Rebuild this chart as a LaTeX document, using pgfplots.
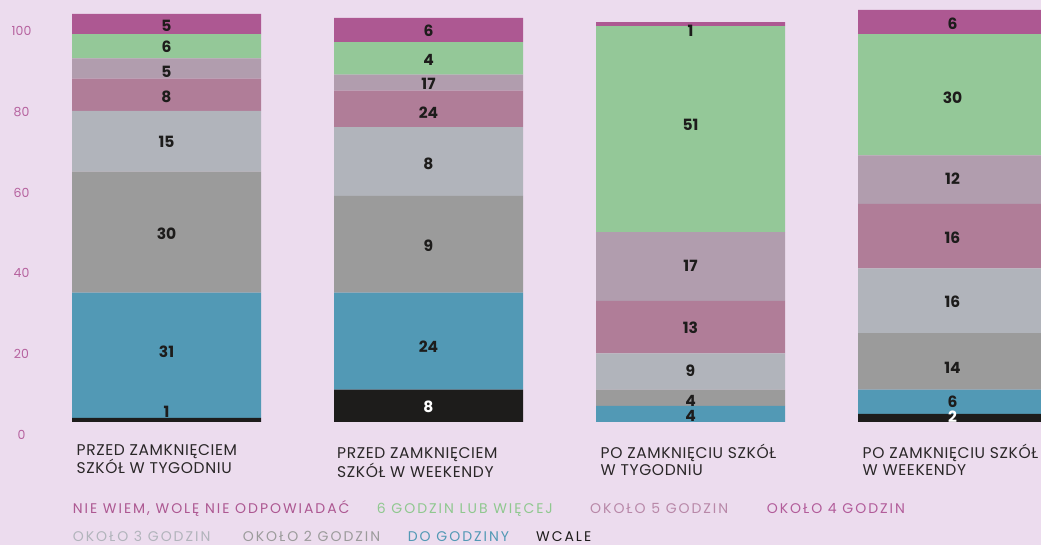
\documentclass[border=0pt]{standalone}
\usepackage{fontspec}
\setmainfont{Poppins}
\newfontfamily\catfont{Poppins}[LetterSpace=4]
\newfontfamily\legfont{Poppins}[LetterSpace=14]
\usepackage{pgfplots}
\pgfplotsset{compat=1.18}
\definecolor{bgc}{HTML}{ECDCEE}
\definecolor{pinkc}{HTML}{AD5892}
\definecolor{greenc}{HTML}{94C898}
\definecolor{lmauve}{HTML}{B19DAE}
\definecolor{mauve}{HTML}{B07D98}
\definecolor{lgray}{HTML}{B1B4BB}
\definecolor{dgray}{HTML}{9B9B9B}
\definecolor{bluec}{HTML}{5299B5}
\definecolor{blackc}{HTML}{1D1C1B}
\definecolor{tickc}{HTML}{B6629F}
\definecolor{txtc}{HTML}{2A2728}
\definecolor{lg5}{HTML}{B888A8}
\definecolor{lg4}{HTML}{B25C9A}
\definecolor{lggreen}{HTML}{8FC88F}
\begin{document}
\begin{tikzpicture}
\fill[bgc] (0,0) rectangle (1041pt,545pt);
\path[use as bounding box] (0,0) rectangle (1041pt,545pt);
\pgfplotsset{commonax/.style={
  at={(166.5pt,123pt)}, anchor=origin,
  x=262pt, y=4.04pt,
  xmin=-0.5534, xmax=3.34, ymin=-5, ymax=106,
}}
\begin{axis}[commonax,
  ybar stacked, bar width=189pt,
  axis line style={draw=none},
  major tick length=0pt,
  xtick={0,2,3},
  xticklabels={{PRZED ZAMKNIĘCIEM\\SZKÓŁ W TYGODNIU},{PO ZAMKNIĘCIU SZKÓŁ\\W TYGODNIU},{PO ZAMKNIĘCIU SZKÓŁ\\W WEEKENDY}},
  extra x ticks={1},
  extra x tick labels={{PRZED ZAMKNIĘCIEM\\SZKÓŁ W WEEKENDY}},
  extra x tick style={xticklabel style={yshift=-3.5pt, xshift=-1.5pt}},
  xticklabel style={anchor=north west, align=left, xshift=-93.3pt, yshift=1.5pt, text=txtc, font=\catfont\fontsize{15.5}{17.3}\selectfont},
  ytick={0,20,...,100},
  yticklabel style={anchor=center, yshift=-13pt, text=tickc, font=\fontsize{12.5}{14}\selectfont},
  /pgf/number format/assume math mode=true,
  every axis plot/.append style={draw=none},
]
\addplot[fill=blackc] coordinates {(0,1) (1,8) (2,0) (3,2)};
\addplot[fill=bluec] coordinates {(0,31) (1,24) (2,4) (3,6)};
\addplot[fill=dgray] coordinates {(0,30) (1,24) (2,4) (3,14)};
\addplot[fill=lgray] coordinates {(0,15) (1,17) (2,9) (3,16)};
\addplot[fill=mauve] coordinates {(0,8) (1,9) (2,13) (3,16)};
\addplot[fill=lmauve] coordinates {(0,5) (1,4) (2,17) (3,12)};
\addplot[fill=greenc] coordinates {(0,6) (1,8) (2,51) (3,30)};
\addplot[fill=pinkc] coordinates {(0,5) (1,6) (2,1) (3,6)};
\end{axis}
\begin{axis}[commonax, hide axis,
  nodes near coords, point meta=explicit symbolic,
  every node near coord/.append style={anchor=center, font=\bfseries\fontsize{15.5}{17}\selectfont},
]
\addplot[only marks, mark=none,
  every node near coord/.append style={text=blackc}] table[meta=l] {
x y l
0 98.1 5
0 92.9 6
0 86.6 5
0 80.6 8
0 69.3 15
0 46.7 30
0 17.3 31
0 2.6 1
1 96.9 6
1 89.5 4
1 83.6 17
1 76.5 24
1 63.9 8
1 43.6 9
1 18.6 24
2 96.8 1
2 73.5 51
2 38.6 17
2 23.3 13
2 12.6 9
2 5.2 4
2 1.4 4
3 98.5 6
3 80.3 30
3 60.1 12
3 45.5 16
3 29.7 16
3 13.4 14
3 5.0 6
};
\addplot[only marks, mark=none,
  every node near coord/.append style={text=white}] table[meta=l] {
x y l
1 3.7 8
3 1.3 2
};
\end{axis}
\begin{scope}[font=\legfont\fontsize{14}{16}\selectfont]
\node[anchor=base west, inner sep=0pt, text=pinkc] at (72.7pt,31pt) {NIE WIEM, WOLĘ NIE ODPOWIADAĆ};
\node[anchor=base west, inner sep=0pt, text=lggreen] at (376.7pt,31pt) {6 GODZIN LUB WIĘCEJ};
\node[anchor=base west, inner sep=0pt, text=lg5] at (590pt,31pt) {OKOŁO 5 GODZIN};
\node[anchor=base west, inner sep=0pt, text=lg4] at (766.7pt,31pt) {OKOŁO 4 GODZIN};
\node[anchor=base west, inner sep=0pt, text=lgray] at (72.7pt,3pt) {OKOŁO 3 GODZIN};
\node[anchor=base west, inner sep=0pt, text=dgray] at (242.7pt,3pt) {OKOŁO 2 GODZIN};
\node[anchor=base west, inner sep=0pt, text=bluec] at (407.7pt,3pt) {DO GODZINY};
\node[anchor=base west, inner sep=0pt, text=blackc] at (536pt,3pt) {WCALE};
\end{scope}
\end{tikzpicture}
\end{document}
